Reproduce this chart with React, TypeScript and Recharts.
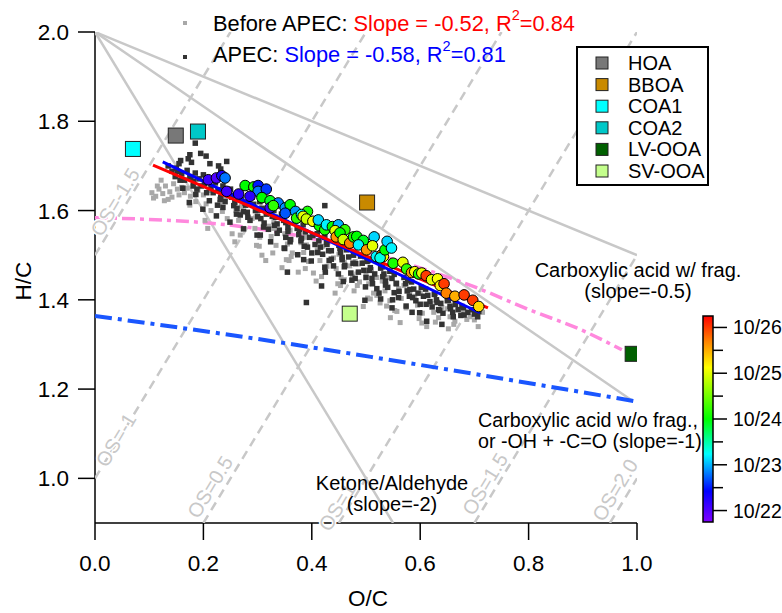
import { ScatterChart, Scatter, XAxis, YAxis } from 'recharts';

const FONT = '"Liberation Sans", Arial, Helvetica, sans-serif';

const xTicks = [0, 0.2, 0.4, 0.6, 0.8, 1.0];
const yTicks = [1.0, 1.2, 1.4, 1.6, 1.8, 2.0];

// reference lines from (0, 2)
const slopeHalf = [[0, 2], [1.0, 1.5]];
const slopeOne = [[0, 2], [0.99, 1.175]];
const slopeTwo = [[0, 2], [0.55, 0.9]];

// oxidation state dashed lines
const osM15 = [[0, 1.5], [0.25, 2.0]];
const osM1 = [[0, 1.0], [0.5, 2.0]];
const osM05 = [[0.2, 0.9], [0.75, 2.0]];
const os0 = [[0.45, 0.9], [1.0, 2.0]];
const os05 = [[0.7, 0.9], [1.0, 1.5]];
const os1 = [[0.95, 0.9], [1.0, 1.0]];

const pinkCurve = [[0, 1.584], [0.244, 1.568], [0.581, 1.479], [0.698, 1.43], [0.809, 1.374], [0.889, 1.337], [0.972, 1.288]];
const blueCurve = [[0, 1.364], [0.35, 1.303], [0.53, 1.268], [1.0, 1.172]];

const fitBefore = [[0.107, 1.702], [0.725, 1.382]];
const fitApec = [[0.125, 1.709], [0.71, 1.371]];

const beforeApec = [
  [0.105, 1.64], [0.112, 1.632], [0.118, 1.648], [0.125, 1.638], [0.13, 1.655], [0.138, 1.642], [0.145, 1.66], [0.152, 1.648],
  [0.108, 1.628], [0.16, 1.652], [0.122, 1.668], [0.135, 1.625],
  [0.115, 1.655], [0.128, 1.622], [0.142, 1.63], [0.155, 1.635], [0.165, 1.64], [0.19, 1.645], [0.175, 1.612],
  [0.17, 1.65], [0.176, 1.632], [0.182, 1.66], [0.186, 1.62],
  [0.2, 1.635], [0.205, 1.615], [0.21, 1.645], [0.214, 1.6], [0.203, 1.578], [0.208, 1.56],
  [0.23, 1.618], [0.235, 1.598], [0.24, 1.628], [0.244, 1.582], [0.253, 1.548], [0.258, 1.53],
  [0.26, 1.6], [0.265, 1.578], [0.27, 1.61], [0.274, 1.56], [0.268, 1.545], [0.27, 1.595],
  [0.29, 1.582], [0.295, 1.56], [0.3, 1.592], [0.304, 1.54], [0.298, 1.522], [0.303, 1.52], [0.308, 1.5],
  [0.32, 1.565], [0.325, 1.542], [0.33, 1.575], [0.334, 1.522], [0.328, 1.505], [0.315, 1.488], [0.33, 1.56],
  [0.35, 1.548], [0.355, 1.525], [0.36, 1.556], [0.364, 1.505], [0.358, 1.488], [0.362, 1.497], [0.353, 1.49], [0.345, 1.472],
  [0.38, 1.528], [0.385, 1.506], [0.39, 1.54], [0.394, 1.486], [0.388, 1.47], [0.375, 1.462], [0.39, 1.523],
  [0.41, 1.512], [0.415, 1.488], [0.42, 1.52], [0.424, 1.468], [0.418, 1.452], [0.428, 1.475], [0.403, 1.46], [0.408, 1.442],
  [0.44, 1.494], [0.445, 1.47], [0.45, 1.502], [0.454, 1.45], [0.448, 1.436], [0.46, 1.445], [0.453, 1.432], [0.443, 1.415],
  [0.47, 1.476], [0.475, 1.452], [0.48, 1.486], [0.484, 1.432], [0.478, 1.42], [0.488, 1.44], [0.46, 1.484],
  [0.5, 1.458], [0.505, 1.436], [0.51, 1.468], [0.514, 1.415], [0.508, 1.402], [0.52, 1.41], [0.503, 1.404], [0.495, 1.385],
  [0.53, 1.442], [0.535, 1.42], [0.54, 1.45], [0.544, 1.398], [0.538, 1.386], [0.526, 1.393], [0.52, 1.45],
  [0.56, 1.425], [0.565, 1.403], [0.57, 1.432], [0.574, 1.382], [0.557, 1.374], [0.563, 1.349], [0.553, 1.376], [0.545, 1.36],
  [0.59, 1.408], [0.595, 1.388], [0.6, 1.415], [0.604, 1.37], [0.598, 1.358], [0.58, 1.418], [0.603, 1.348], [0.612, 1.34],
  [0.62, 1.392], [0.625, 1.372], [0.63, 1.4], [0.634, 1.36], [0.628, 1.35], [0.64, 1.383],
  [0.65, 1.38], [0.655, 1.362], [0.66, 1.388], [0.664, 1.352], [0.652, 1.335], [0.662, 1.345],
  [0.68, 1.37], [0.686, 1.356], [0.692, 1.362], [0.7, 1.355], [0.707, 1.34], [0.715, 1.372],
];

const apec = [
  [0.135, 1.7], [0.142, 1.688], [0.15, 1.695], [0.155, 1.705], [0.148, 1.676], [0.16, 1.682], [0.165, 1.668], [0.158, 1.712],
  [0.172, 1.716], [0.178, 1.708], [0.195, 1.728], [0.205, 1.722], [0.212, 1.705], [0.228, 1.7], [0.232, 1.693], [0.185, 1.751],
  [0.175, 1.725], [0.243, 1.71],
  [0.17, 1.69], [0.175, 1.676], [0.182, 1.665], [0.185, 1.684], [0.192, 1.671], [0.196, 1.655], [0.2, 1.68], [0.188, 1.648],
  [0.21, 1.668], [0.214, 1.652], [0.218, 1.64], [0.222, 1.662], [0.228, 1.646], [0.232, 1.63], [0.236, 1.655], [0.24, 1.62], [0.226, 1.612],
  [0.25, 1.648], [0.254, 1.634], [0.258, 1.618], [0.262, 1.605], [0.266, 1.64], [0.27, 1.625], [0.274, 1.598], [0.278, 1.612], [0.282, 1.585], [0.268, 1.59],
  [0.29, 1.63], [0.293, 1.614], [0.296, 1.6], [0.3, 1.586], [0.304, 1.62], [0.308, 1.605], [0.312, 1.572], [0.316, 1.592], [0.32, 1.558], [0.305, 1.545],
  [0.33, 1.6], [0.333, 1.585], [0.336, 1.57], [0.34, 1.556], [0.344, 1.592], [0.348, 1.578], [0.352, 1.54], [0.356, 1.563], [0.36, 1.53], [0.35, 1.515],
  [0.37, 1.576], [0.373, 1.56], [0.376, 1.546], [0.38, 1.532], [0.384, 1.568], [0.388, 1.552], [0.392, 1.518], [0.396, 1.54], [0.4, 1.505], [0.39, 1.394], [0.385, 1.49],
  [0.41, 1.548], [0.413, 1.532], [0.416, 1.518], [0.42, 1.502], [0.424, 1.54], [0.428, 1.524], [0.432, 1.488], [0.436, 1.51], [0.44, 1.476], [0.425, 1.462],
  [0.45, 1.522], [0.453, 1.506], [0.456, 1.49], [0.46, 1.474], [0.464, 1.512], [0.468, 1.496], [0.472, 1.46], [0.476, 1.482], [0.48, 1.448], [0.458, 1.441],
  [0.49, 1.498], [0.493, 1.482], [0.496, 1.466], [0.5, 1.45], [0.504, 1.488], [0.508, 1.472], [0.512, 1.436], [0.516, 1.458], [0.52, 1.425], [0.498, 1.399],
  [0.53, 1.474], [0.533, 1.458], [0.536, 1.442], [0.54, 1.428], [0.544, 1.464], [0.548, 1.448], [0.552, 1.416], [0.556, 1.436], [0.56, 1.405], [0.548, 1.382],
  [0.57, 1.45], [0.573, 1.436], [0.576, 1.42], [0.58, 1.408], [0.584, 1.44], [0.588, 1.424], [0.592, 1.398], [0.596, 1.415], [0.6, 1.39], [0.585, 1.372],
  [0.61, 1.424], [0.614, 1.41], [0.618, 1.396], [0.622, 1.384], [0.626, 1.412], [0.63, 1.4], [0.634, 1.378], [0.638, 1.392], [0.642, 1.37],
  [0.65, 1.398], [0.655, 1.385], [0.66, 1.372], [0.665, 1.39], [0.67, 1.378], [0.675, 1.365], [0.68, 1.382], [0.688, 1.372], [0.695, 1.378], [0.7, 1.368], [0.708, 1.374],
  [0.424, 1.611], [0.612, 1.352], [0.355, 1.462], [0.418, 1.431], [0.527, 1.402], [0.64, 1.345],
  [0.152, 1.688], [0.157, 1.668], [0.162, 1.65],
  [0.177, 1.674], [0.181, 1.655], [0.186, 1.636], [0.174, 1.618],
  [0.202, 1.66], [0.206, 1.64], [0.211, 1.622], [0.199, 1.603],
  [0.227, 1.645], [0.231, 1.625], [0.236, 1.607], [0.224, 1.588],
  [0.252, 1.63], [0.256, 1.611], [0.261, 1.592], [0.249, 1.574],
  [0.277, 1.616], [0.281, 1.596], [0.286, 1.578], [0.274, 1.559],
  [0.302, 1.601], [0.306, 1.582], [0.311, 1.563], [0.299, 1.545],
  [0.327, 1.587], [0.331, 1.567], [0.336, 1.549], [0.324, 1.53],
  [0.352, 1.573], [0.356, 1.553], [0.361, 1.535], [0.349, 1.516],
  [0.377, 1.558], [0.381, 1.538], [0.386, 1.52], [0.374, 1.501],
  [0.402, 1.544], [0.406, 1.524], [0.411, 1.506], [0.399, 1.487],
  [0.427, 1.529], [0.431, 1.51], [0.436, 1.491], [0.424, 1.473],
  [0.452, 1.515], [0.456, 1.495], [0.461, 1.477], [0.449, 1.458],
  [0.477, 1.5], [0.481, 1.481], [0.486, 1.462], [0.474, 1.444],
  [0.502, 1.486], [0.506, 1.466], [0.511, 1.448], [0.499, 1.429],
  [0.527, 1.471], [0.531, 1.452], [0.536, 1.433], [0.524, 1.415],
  [0.552, 1.457], [0.556, 1.437], [0.561, 1.419], [0.549, 1.4],
  [0.577, 1.443], [0.581, 1.423], [0.586, 1.405], [0.574, 1.386],
  [0.602, 1.428], [0.606, 1.408], [0.611, 1.39], [0.599, 1.371],
  [0.627, 1.414], [0.631, 1.394], [0.636, 1.376],
  [0.652, 1.399], [0.656, 1.38], [0.661, 1.362],
  [0.677, 1.385], [0.681, 1.366], [0.702, 1.372], [0.706, 1.362],
];

// x, y, day of October
const hourly = [
  [0.209, 1.669, 22.1], [0.224, 1.673, 22.0], [0.234, 1.678, 22.3], [0.24, 1.673, 22.8], [0.243, 1.643, 22.1], [0.265, 1.637, 22.2],
  [0.277, 1.656, 24.0], [0.293, 1.653, 24.1], [0.301, 1.656, 22.5], [0.301, 1.643, 22.8], [0.286, 1.632, 22.2], [0.316, 1.648, 22.6],
  [0.308, 1.629, 24.0], [0.323, 1.622, 23.9], [0.323, 1.606, 22.1], [0.338, 1.617, 22.8], [0.329, 1.611, 24.2], [0.351, 1.606, 22.9],
  [0.36, 1.613, 24.0], [0.351, 1.594, 22.7], [0.37, 1.598, 22.9], [0.392, 1.598, 24.1], [0.372, 1.583, 24.2], [0.381, 1.591, 23.2],
  [0.384, 1.587, 25.0], [0.39, 1.581, 24.9], [0.402, 1.576, 25.1], [0.414, 1.566, 24.0], [0.412, 1.579, 23.1], [0.424, 1.557, 24.1],
  [0.427, 1.568, 23.2], [0.438, 1.564, 24.0], [0.449, 1.568, 23.0], [0.443, 1.555, 25.0], [0.461, 1.557, 24.2], [0.445, 1.541, 25.6],
  [0.452, 1.55, 24.0], [0.458, 1.535, 24.9], [0.47, 1.527, 25.7], [0.477, 1.541, 24.1], [0.483, 1.542, 24.0], [0.495, 1.533, 23.9],
  [0.486, 1.523, 23.2], [0.515, 1.541, 23.1], [0.501, 1.512, 25.6], [0.512, 1.521, 25.0], [0.519, 1.497, 23.2], [0.529, 1.501, 25.7],
  [0.532, 1.497, 25.1], [0.526, 1.494, 23.3], [0.535, 1.512, 24.0], [0.539, 1.531, 23.1], [0.547, 1.516, 23.2], [0.55, 1.482, 24.1],
  [0.568, 1.484, 25.0], [0.575, 1.469, 24.2], [0.584, 1.461, 25.6], [0.59, 1.463, 25.1], [0.597, 1.458, 24.1], [0.603, 1.46, 25.0],
  [0.611, 1.454, 26.0], [0.621, 1.445, 25.0], [0.632, 1.447, 25.1], [0.637, 1.432, 25.2], [0.644, 1.436, 26.0], [0.648, 1.415, 25.7],
  [0.664, 1.408, 25.5], [0.681, 1.411, 26.0], [0.697, 1.399, 26.0], [0.708, 1.385, 25.3],
];

const factorNames = ['HOA', 'BBOA', 'COA1', 'COA2', 'LV-OOA', 'SV-OOA'];
const factorOC = [0.149, 0.502, 0.07, 0.19, 0.992, 0.47];
const factorHC = [1.768, 1.618, 1.738, 1.777, 1.279, 1.369];
const factorColors = ['#787878', '#c98a00', '#00ffff', '#00c8c8', '#006000', '#c4ff8c'];

const cbTicks = [22, 23, 24, 25, 26];
const cbMinor = [22.5, 23.5, 24.5, 25.5];
const cbMin = 21.75;
const cbMax = 26.25;
const cbStops: [number, string][] = [
  [0, '#8000ff'], [0.15, '#0000ff'], [0.33, '#00ffff'], [0.5, '#00ff00'], [0.75, '#ffff00'], [0.88, '#ff8000'], [1, '#ff0000'],
];

const pts = (a: number[][]) => a.map(([x, y]) => ({ x, y }));

function hex(c: string) {
  return [1, 3, 5].map((i) => parseInt(c.slice(i, i + 2), 16));
}

function dateColor(t: number) {
  const f = Math.max(0, Math.min(1, (t - cbMin) / (cbMax - cbMin)));
  for (let i = 1; i < cbStops.length; i++) {
    const [f1, c1] = cbStops[i];
    const [f0, c0] = cbStops[i - 1];
    if (f <= f1) {
      const k = (f - f0) / (f1 - f0);
      const a = hex(c0), b = hex(c1);
      const m = a.map((v, j) => Math.round(v + (b[j] - v) * k));
      return `rgb(${m.join(',')})`;
    }
  }
  return cbStops[cbStops.length - 1][1];
}

const noDot = () => <g />;

const grayLine = { stroke: '#c8c8c8', strokeWidth: 2.5 };
const osDash = { stroke: '#c8c8c8', strokeWidth: 2.5, strokeDasharray: '9 6' };

const square = (size: number, fill: string, stroke?: string) => (p: any) => (
  <rect x={p.cx - size / 2} y={p.cy - size / 2} width={size} height={size} fill={fill} stroke={stroke || 'none'} strokeWidth={1} />
);

const osLabels = [
  { text: 'OS=-1.5', x: 115, y: 202 },
  { text: 'OS=-1', x: 116, y: 440 },
  { text: 'OS=0.5', x: 210, y: 487 },
  { text: 'OS=1', x: 337, y: 507 },
  { text: 'OS=1.5', x: 485, y: 484 },
  { text: 'OS=2.0', x: 615, y: 490 },
];

export default function App() {
  const cbTop = 316;
  const cbBot = 522;
  const cbY = (t: number) => cbBot - ((t - cbMin) / (cbMax - cbMin)) * (cbBot - cbTop);

  return (
    <div style={{ position: 'absolute', left: 0, top: 0, width: 782, height: 613, background: '#fff', fontFamily: FONT, overflow: 'hidden' }}>
      <ScatterChart width={782} height={613} margin={{ top: 32, right: 145, bottom: 40, left: 35 }}>
        <XAxis
          type="number"
          dataKey="x"
          domain={[0, 1]}
          ticks={xTicks}
          tickFormatter={(v: number) => v.toFixed(1)}
          height={50}
          tickSize={17}
          tickMargin={15}
          stroke="#000"
          axisLine={{ stroke: '#000', strokeWidth: 1.5 }}
          tickLine={{ stroke: '#000', strokeWidth: 1.5 }}
          tick={{ fontSize: 22.5, fill: '#000', fontFamily: FONT }}
          allowDataOverflow
        />
        <YAxis
          type="number"
          dataKey="y"
          domain={[0.9, 2.0]}
          ticks={yTicks}
          tickFormatter={(v: number) => v.toFixed(1)}
          width={60}
          tickSize={17}
          tickMargin={9}
          stroke="#000"
          axisLine={{ stroke: '#000', strokeWidth: 1.5 }}
          tickLine={{ stroke: '#000', strokeWidth: 1.5 }}
          tick={{ fontSize: 22.5, fill: '#000', fontFamily: FONT }}
          allowDataOverflow
        />

        {[osM15, osM1, osM05, os0, os05, os1].map((s, i) => (
          <Scatter key={'os' + i} data={pts(s)} line={osDash} shape={noDot} isAnimationActive={false} />
        ))}
        {[slopeHalf, slopeOne, slopeTwo].map((s, i) => (
          <Scatter key={'sl' + i} data={pts(s)} line={grayLine} shape={noDot} isAnimationActive={false} />
        ))}
        <Scatter data={pts(pinkCurve)} line={{ stroke: '#ff88dd', strokeWidth: 3.5, strokeDasharray: '13 5 4 5' }} lineJointType="monotoneX" shape={noDot} isAnimationActive={false} />
        <Scatter data={pts(blueCurve)} line={{ stroke: '#1a56ff', strokeWidth: 4, strokeDasharray: '17 6 4 6' }} lineJointType="monotoneX" shape={noDot} isAnimationActive={false} />

        <Scatter data={pts(beforeApec)} shape={square(5, '#a8a8a8')} isAnimationActive={false} />
        <Scatter data={pts(apec)} shape={square(5.5, '#333333')} isAnimationActive={false} />

        <Scatter data={pts(fitApec)} line={{ stroke: '#0000ff', strokeWidth: 3 }} shape={noDot} isAnimationActive={false} />
        <Scatter data={pts(fitBefore)} line={{ stroke: '#ff0000', strokeWidth: 3 }} shape={noDot} isAnimationActive={false} />

        {factorNames.map((n, i) => (
          <Scatter key={n} data={[{ x: factorOC[i], y: factorHC[i] }]} shape={square(15, factorColors[i], '#222')} isAnimationActive={false} />
        ))}

        <Scatter
          data={hourly.map(([x, y, t]) => ({ x, y, t }))}
          shape={(p: any) => <circle cx={p.cx} cy={p.cy} r={5.3} fill={dateColor(p.payload.t)} stroke="#000" strokeWidth={1} />}
          isAnimationActive={false}
        />
      </ScatterChart>

      <svg width={782} height={613} style={{ position: 'absolute', left: 0, top: 0, pointerEvents: 'none' }} fontFamily={FONT}>
        <defs>
          <linearGradient id="cb" x1="0" y1="1" x2="0" y2="0">
            {cbStops.map(([f, c]) => (
              <stop key={f} offset={f} stopColor={c} />
            ))}
          </linearGradient>
        </defs>

        <text transform="translate(31,281) rotate(-90)" textAnchor="middle" fontSize={22.5} fill="#000">H/C</text>
        <text x={368} y={606} textAnchor="middle" fontSize={22.5} fill="#000">O/C</text>

        {osLabels.map((l) => (
          <text
            key={l.text}
            transform={`translate(${l.x},${l.y}) rotate(-58.7)`}
            textAnchor="middle"
            dominantBaseline="central"
            fontSize={20}
            fill="#c8c8c8"
            stroke="#fff"
            strokeWidth={3}
            paintOrder="stroke"
          >
            {l.text}
          </text>
        ))}

        {/* top legend */}
        <rect x={183} y={21} width={4} height={4} fill="#a8a8a8" />
        <text x={213} y={31} fontSize={21.8} fill="#000">
          Before APEC: <tspan fill="#ff0000">Slope = -0.52, R</tspan>
          <tspan fill="#ff0000" fontSize={14.5} dy={-11}>2</tspan>
          <tspan fill="#ff0000" dy={11}>=0.84</tspan>
        </text>
        <rect x={183} y={55} width={4} height={4} fill="#333" />
        <text x={213} y={62} fontSize={21.8} fill="#000">
          APEC: <tspan fill="#0000ff">Slope = -0.58, R</tspan>
          <tspan fill="#0000ff" fontSize={14.5} dy={-11}>2</tspan>
          <tspan fill="#0000ff" dy={11}>=0.81</tspan>
        </text>

        {/* factor legend */}
        <rect x={577} y={47} width={131} height={138} fill="#fff" stroke="#000" strokeWidth={2} />
        {factorNames.map((n, i) => {
          const cy = 63 + i * 21.6;
          return (
            <g key={n}>
              <rect x={596} y={cy - 6} width={12} height={12} fill={factorColors[i]} stroke="#222" strokeWidth={1} />
              <text x={628} y={cy + 7} fontSize={20} fill="#000">{n}</text>
            </g>
          );
        })}

        {/* annotations */}
        <text x={638} y={277} textAnchor="middle" fontSize={20} fill="#000">Carboxylic acid w/ frag.</text>
        <text x={638} y={298} textAnchor="middle" fontSize={20} fill="#000">(slope=-0.5)</text>
        <text x={478} y={427} fontSize={19.7} fill="#000">Carboxylic acid w/o frag.,</text>
        <text x={478} y={448} fontSize={19.7} fill="#000">or -OH + -C=O (slope=-1)</text>
        <text x={392} y={490} textAnchor="middle" fontSize={20} fill="#000">Ketone/Aldehyde</text>
        <text x={392} y={511} textAnchor="middle" fontSize={20} fill="#000">(slope=-2)</text>

        {/* colour scale */}
        <rect x={703} y={cbTop} width={10} height={cbBot - cbTop} fill="url(#cb)" stroke="#000" strokeWidth={1.5} />
        {cbMinor.map((t) => (
          <line key={t} x1={713} x2={723} y1={cbY(t)} y2={cbY(t)} stroke="#000" strokeWidth={1.5} />
        ))}
        {cbTicks.map((t) => (
          <g key={t}>
            <line x1={713} x2={727} y1={cbY(t)} y2={cbY(t)} stroke="#000" strokeWidth={1.5} />
            <text x={733} y={cbY(t) + 7} fontSize={19.5} fill="#000">10/{t}</text>
          </g>
        ))}
      </svg>
    </div>
  );
}
